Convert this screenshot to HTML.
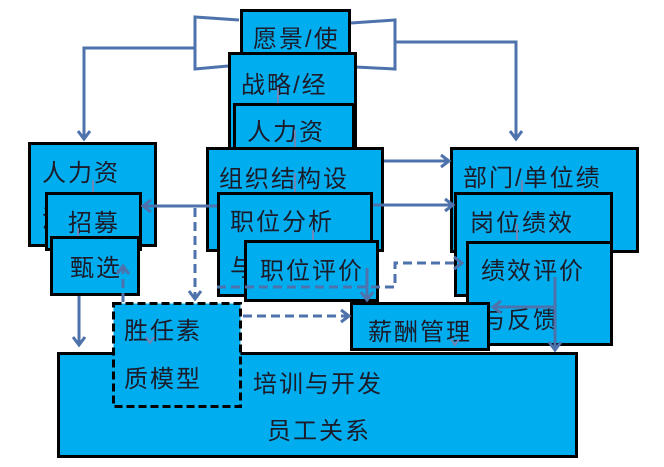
<!DOCTYPE html>
<html><head><meta charset="utf-8">
<style>
html,body{margin:0;padding:0;background:#fff;}
svg{display:block}
text{font-family:"Liberation Sans","Noto Sans CJK SC",sans-serif;font-size:24px;fill:#1b1b2a;letter-spacing:2px}
.b{fill:#00AEEF;stroke:#000;stroke-width:3}
.c{fill:none;stroke:#4d72ac;stroke-width:3}
.d{fill:none;stroke:#4d72ac;stroke-width:3;stroke-dasharray:9 5}
.s{fill:none;stroke:#6f86b8;stroke-width:2}
</style></head><body>
<svg width="664" height="467" viewBox="0 0 664 467">
<!-- top brackets -->
<polyline class="c" points="239,20 195,17 195,69 228,66"/>
<polyline class="c" points="195,48 84,48 84,139"/>
<polyline class="c" points="78,131 84,139 90,131"/>
<polyline class="c" points="351,23 395,20 395,69 356,67"/>
<polyline class="c" points="395,42 516,42 516,139"/>
<polyline class="c" points="510,131 516,139 522,131"/>

<!-- center stack -->
<rect class="b" x="241.5" y="10.5" width="108" height="60"/>
<text x="253" y="47">愿景/使</text>
<rect class="b" x="229.5" y="53.5" width="126" height="110"/>
<text x="241" y="93">战略/经</text>
<rect class="b" x="234.5" y="104.5" width="119" height="60"/>
<text x="247" y="140">人力资</text>
<rect class="b" x="207.5" y="148.5" width="175" height="102"/>
<text x="219" y="187">组织结构设</text>
<rect class="b" x="218.5" y="193.5" width="153" height="102"/>
<text x="230" y="230">职位分析</text>
<text x="230" y="276">与</text>
<rect class="b" x="245.5" y="241.5" width="132" height="59"/>
<text x="260" y="279">职位评价</text>

<!-- left stack -->
<rect class="b" x="29.5" y="143.5" width="126" height="102"/>
<text x="42" y="181">人力资</text>
<text x="42" y="227">源</text>
<rect class="b" x="46.5" y="193.5" width="94" height="56"/>
<text x="68" y="231">招募</text>
<rect class="b" x="51.5" y="237.5" width="87" height="57"/>
<text x="70" y="276">甄选</text>

<!-- right stack -->
<rect class="b" x="451.5" y="148.5" width="186" height="103"/>
<text x="463" y="186">部门/单位绩</text>
<rect class="b" x="455.5" y="193.5" width="156" height="102"/>
<text x="470" y="231">岗位绩效</text>
<rect class="b" x="467.5" y="242.5" width="144" height="102"/>
<text x="481" y="279">绩效评价</text>
<text x="481" y="328">与反馈</text>

<!-- bottom -->
<rect class="b" x="58.5" y="353.5" width="518" height="103"/>
<text x="253" y="392">培训与开发</text>
<text x="267" y="439">员工关系</text>
<rect class="b" x="351.5" y="303.5" width="137" height="46"/>
<text x="368" y="340">薪酬管理</text>
<rect x="113.5" y="303.5" width="127" height="103" fill="#00AEEF" stroke="#000" stroke-width="3" stroke-dasharray="8 4"/>
<text x="124" y="339">胜任素</text>
<text x="124" y="387">质模型</text>

<!-- small internal connectors -->
<line class="s" x1="278" y1="87" x2="278" y2="103"/>
<line class="s" x1="295" y1="130" x2="295" y2="147"/>
<line class="s" x1="295" y1="173" x2="295" y2="192"/>
<line class="s" x1="313" y1="230" x2="313" y2="240"/>
<line class="s" x1="93" y1="180" x2="93" y2="192"/>
<line class="s" x1="78" y1="228" x2="78" y2="236"/>
<line class="s" x1="522" y1="180" x2="522" y2="192"/>
<line class="s" x1="517" y1="224" x2="517" y2="240"/>
<polyline class="s" points="146,337 150,343 154,337"/>
<polyline class="s" points="451,339 455,345 459,339"/>

<!-- connectors -->
<line class="c" x1="384" y1="161" x2="449" y2="161"/>
<polyline class="c" points="441,155 449,161 441,167"/>
<line class="c" x1="373" y1="205" x2="453" y2="205"/>
<polyline class="c" points="445,199 453,205 445,211"/>
<line class="c" x1="217" y1="206" x2="143" y2="206"/>
<polyline class="c" points="151,200 143,206 151,212"/>
<line class="d" x1="195" y1="208" x2="195" y2="299"/>
<polyline class="c" points="189,291 195,299 201,291"/>
<polyline class="d" points="217,287 395,287 395,263 462,263"/>
<polyline class="c" points="454,257 462,263 454,269"/>
<line class="d" x1="123" y1="302" x2="123" y2="266"/>
<polyline class="c" points="117,274 123,266 129,274"/>
<line class="c" x1="79" y1="296" x2="79" y2="345"/>
<polyline class="c" points="73,337 79,345 85,337"/>
<line class="d" x1="243" y1="316" x2="349" y2="316"/>
<polyline class="c" points="341,310 349,316 341,322"/>
<line class="c" x1="367" y1="268" x2="367" y2="300"/>
<polyline class="c" points="361,292 367,300 373,292"/>
<line class="c" x1="555" y1="277" x2="555" y2="350"/>
<polyline class="c" points="549,342 555,350 561,342"/>
<line class="c" x1="555" y1="307" x2="493" y2="307"/>
<polyline class="c" points="501,301 493,307 501,313"/>
</svg>
</body></html>
